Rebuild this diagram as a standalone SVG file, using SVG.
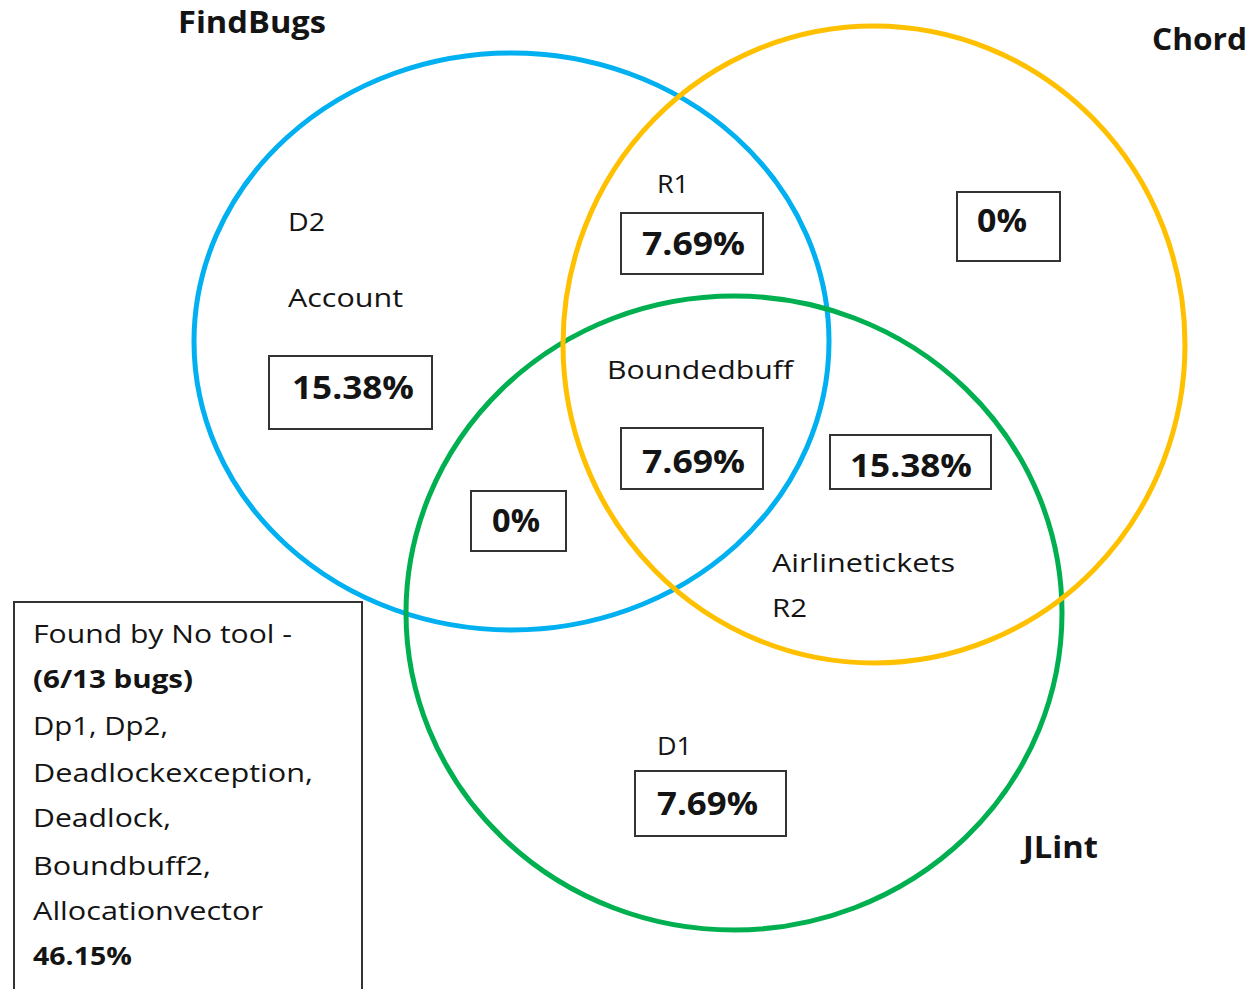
<svg xmlns="http://www.w3.org/2000/svg" width="1253" height="989" viewBox="0 0 1253 989">
  <style>
    text { font-family: "Open Sans", "DejaVu Sans", sans-serif; fill: #141414; }
    .title { font-size: 31px; font-weight: bold; }
    .label { font-size: 25px; }
    .pct { font-size: 33px; font-weight: bold; }
    .box { fill: #ffffff; stroke: #333333; stroke-width: 2; }
    .set { fill: none; stroke-width: 5; }
  </style>
  <rect x="0" y="0" width="1253" height="989" fill="#ffffff"/>

  <!-- set outlines -->
  <g id="sets">
    <ellipse id="findbugs-set" class="set" cx="511.5" cy="341.5" rx="317.5" ry="288.5" stroke="#00B0F0"/>
    <ellipse id="jlint-set" class="set" cx="734" cy="613" rx="328" ry="317" stroke="#00B050"/>
    <ellipse id="chord-set" class="set" cx="874" cy="344.5" rx="311" ry="318.5" stroke="#FFC000"/>
  </g>

  <!-- set titles -->
  <g id="titles">
    <text class="title" x="178" y="33" textLength="148" lengthAdjust="spacingAndGlyphs">FindBugs</text>
    <text class="title" x="1152" y="50" textLength="95" lengthAdjust="spacingAndGlyphs">Chord</text>
    <text class="title" x="1023" y="858" textLength="75" lengthAdjust="spacingAndGlyphs">JLint</text>
  </g>

  <!-- FindBugs only -->
  <g id="region-findbugs">
    <text class="label" x="288" y="231" textLength="37" lengthAdjust="spacingAndGlyphs">D2</text>
    <text class="label" x="288" y="307" textLength="115" lengthAdjust="spacingAndGlyphs">Account</text>
    <rect class="box" x="269" y="356" width="163" height="73"/>
    <text class="pct" x="292" y="399" textLength="122" lengthAdjust="spacingAndGlyphs">15.38%</text>
  </g>

  <!-- FindBugs and JLint -->
  <g id="region-findbugs-jlint">
    <rect class="box" x="471" y="491" width="95" height="60"/>
    <text class="pct" x="492" y="532" textLength="48" lengthAdjust="spacingAndGlyphs">0%</text>
  </g>

  <!-- FindBugs and Chord -->
  <g id="region-findbugs-chord">
    <text class="label" x="657" y="193" textLength="32" lengthAdjust="spacingAndGlyphs">R1</text>
    <rect class="box" x="621" y="213" width="142" height="61"/>
    <text class="pct" x="642" y="255" textLength="103" lengthAdjust="spacingAndGlyphs">7.69%</text>
  </g>

  <!-- Chord only -->
  <g id="region-chord">
    <rect class="box" x="957" y="192" width="103" height="69"/>
    <text class="pct" x="977" y="232" textLength="50" lengthAdjust="spacingAndGlyphs">0%</text>
  </g>

  <!-- all three -->
  <g id="region-all">
    <text class="label" x="607" y="379" textLength="186" lengthAdjust="spacingAndGlyphs">Boundedbuff</text>
    <rect class="box" x="621" y="428" width="142" height="61"/>
    <text class="pct" x="642" y="473" textLength="103" lengthAdjust="spacingAndGlyphs">7.69%</text>
  </g>

  <!-- Chord and JLint -->
  <g id="region-chord-jlint">
    <rect class="box" x="830" y="435" width="161" height="54"/>
    <text class="pct" x="850" y="477" textLength="122" lengthAdjust="spacingAndGlyphs">15.38%</text>
    <text class="label" x="772" y="572" textLength="183" lengthAdjust="spacingAndGlyphs">Airlinetickets</text>
    <text class="label" x="772" y="617" textLength="35" lengthAdjust="spacingAndGlyphs">R2</text>
  </g>

  <!-- JLint only -->
  <g id="region-jlint">
    <text class="label" x="657" y="755" textLength="35" lengthAdjust="spacingAndGlyphs">D1</text>
    <rect class="box" x="635" y="771" width="151" height="65"/>
    <text class="pct" x="657" y="815" textLength="101" lengthAdjust="spacingAndGlyphs">7.69%</text>
  </g>

  <!-- bugs found by no tool -->
  <g id="no-tool">
    <rect class="box" x="14" y="602" width="348" height="400"/>
    <text class="label" x="33" y="643" textLength="259" lengthAdjust="spacingAndGlyphs">Found by No tool -</text>
    <text class="label" x="33" y="688" font-weight="bold" textLength="160" lengthAdjust="spacingAndGlyphs">(6/13 bugs)</text>
    <text class="label" x="33" y="735" textLength="135" lengthAdjust="spacingAndGlyphs">Dp1, Dp2,</text>
    <text class="label" x="33" y="782" textLength="280" lengthAdjust="spacingAndGlyphs">Deadlockexception,</text>
    <text class="label" x="33" y="827" textLength="138" lengthAdjust="spacingAndGlyphs">Deadlock,</text>
    <text class="label" x="33" y="875" textLength="178" lengthAdjust="spacingAndGlyphs">Boundbuff2,</text>
    <text class="label" x="33" y="920" textLength="230" lengthAdjust="spacingAndGlyphs">Allocationvector</text>
    <text class="label" x="33" y="965" font-weight="bold" textLength="99" lengthAdjust="spacingAndGlyphs">46.15%</text>
  </g>
</svg>
